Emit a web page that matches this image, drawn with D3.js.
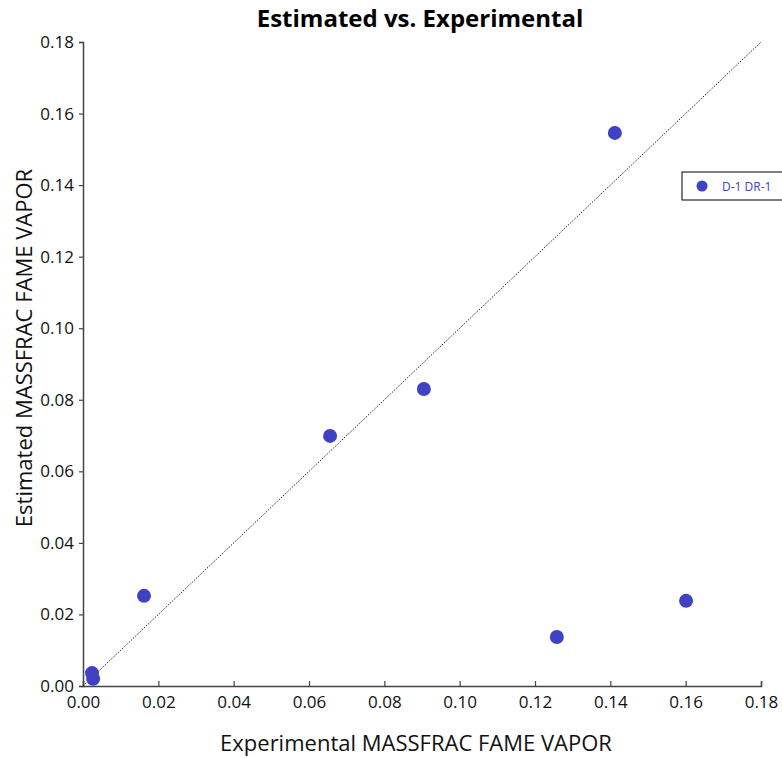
<!DOCTYPE html>
<html>
<head>
<meta charset="utf-8">
<script src="https://cdn.jsdelivr.net/npm/d3@7"></script>
<style>
    body { margin: 0; background: #fff; }
    text { font-family: "Open Sans", "Noto Sans", sans-serif; }
</style>
</head>
<body>
<div class="main"></div>
<script>
var seriesName = 'D-1 DR-1';
var experimental = [0.0024, 0.0027, 0.0162, 0.0656, 0.0905, 0.1258, 0.1412, 0.1601];
var estimated = [0.0036, 0.0020, 0.0252, 0.0699, 0.0830, 0.0137, 0.1546, 0.0238];
var tickValues = [0, 0.02, 0.04, 0.06, 0.08, 0.10, 0.12, 0.14, 0.16, 0.18];

var options = {
    'width': 782,
    'height': 758,
    'left': 83,
    'right': 761,
    'top': 42,
    'bottom': 686
};
var pointColor = '#4141c4';

var svg = d3.select('.main')
    .append('svg')
    .attr('width', options.width)
    .attr('height', options.height);

var scale_x = d3.scaleLinear().domain([0, 0.18]).range([options.left, options.right]);
var scale_y = d3.scaleLinear().domain([0, 0.18]).range([options.bottom, options.top]);

// x axis, ticks point inward
var xAxis = svg.append('g')
    .attr('transform', 'translate(0,' + options.bottom + ')')
    .call(d3.axisBottom(scale_x).tickValues(tickValues).tickFormat(d3.format('.2f')).tickSizeInner(-5).tickSizeOuter(-5).tickPadding(9));

// y axis, ticks point outward
var yAxis = svg.append('g')
    .attr('transform', 'translate(' + options.left + ',0)')
    .call(d3.axisLeft(scale_y).tickValues(tickValues).tickFormat(d3.format('.2f')).tickSizeInner(4).tickSizeOuter(4).tickPadding(5));

svg.selectAll('.domain').style('stroke', '#444').style('stroke-width', '1.5px');
svg.selectAll('.tick line').style('stroke', '#444').style('stroke-width', '1.2px');
svg.selectAll('.tick text')
    .style('font-size', '17px')
    .style('fill', '#111');
xAxis.selectAll('.tick text').attr('dy', '0.71em').attr('y', 10);

// diagonal reference line
svg.append('line')
    .attr('x1', scale_x(0))
    .attr('y1', scale_y(0))
    .attr('x2', scale_x(0.18))
    .attr('y2', scale_y(0.18))
    .style('stroke', '#222')
    .style('stroke-width', '1px')
    .style('stroke-dasharray', '1.5,1.5');

// points
svg.selectAll('.point')
    .data(experimental)
    .enter()
    .append('circle')
    .attr('class', 'point')
    .attr('cx', function (d) {
        return scale_x(d);
    })
    .attr('cy', function (d, i) {
        return scale_y(estimated[i]);
    })
    .attr('r', 7)
    .style('fill', pointColor);

// title and axis labels
svg.append('text')
    .text('Estimated vs. Experimental')
    .attr('x', 420)
    .attr('y', 27)
    .attr('text-anchor', 'middle')
    .style('font-size', '24px')
    .style('font-weight', 'bold')
    .style('fill', '#000');

svg.append('text')
    .text('Experimental MASSFRAC FAME VAPOR')
    .attr('x', 416)
    .attr('y', 751)
    .attr('text-anchor', 'middle')
    .style('font-size', '22px')
    .style('fill', '#111');

svg.append('text')
    .text('Estimated MASSFRAC FAME VAPOR')
    .attr('transform', 'translate(32,' + 348 + ') rotate(-90)')
    .attr('text-anchor', 'middle')
    .style('font-size', '22px')
    .style('fill', '#111');

// legend
var legend = svg.append('g').attr('transform', 'translate(682,172)');
legend.append('rect')
    .attr('x', 0)
    .attr('y', 0)
    .attr('width', 110)
    .attr('height', 28)
    .style('fill', '#fff')
    .style('stroke', '#000')
    .style('stroke-width', '1px');
legend.append('circle')
    .attr('cx', 20)
    .attr('cy', 14)
    .attr('r', 5.5)
    .style('fill', pointColor);
legend.append('text')
    .text(seriesName)
    .attr('x', 40)
    .attr('y', 18.5)
    .style('font-size', '12px')
    .style('fill', pointColor);
</script>
</body>
</html>
